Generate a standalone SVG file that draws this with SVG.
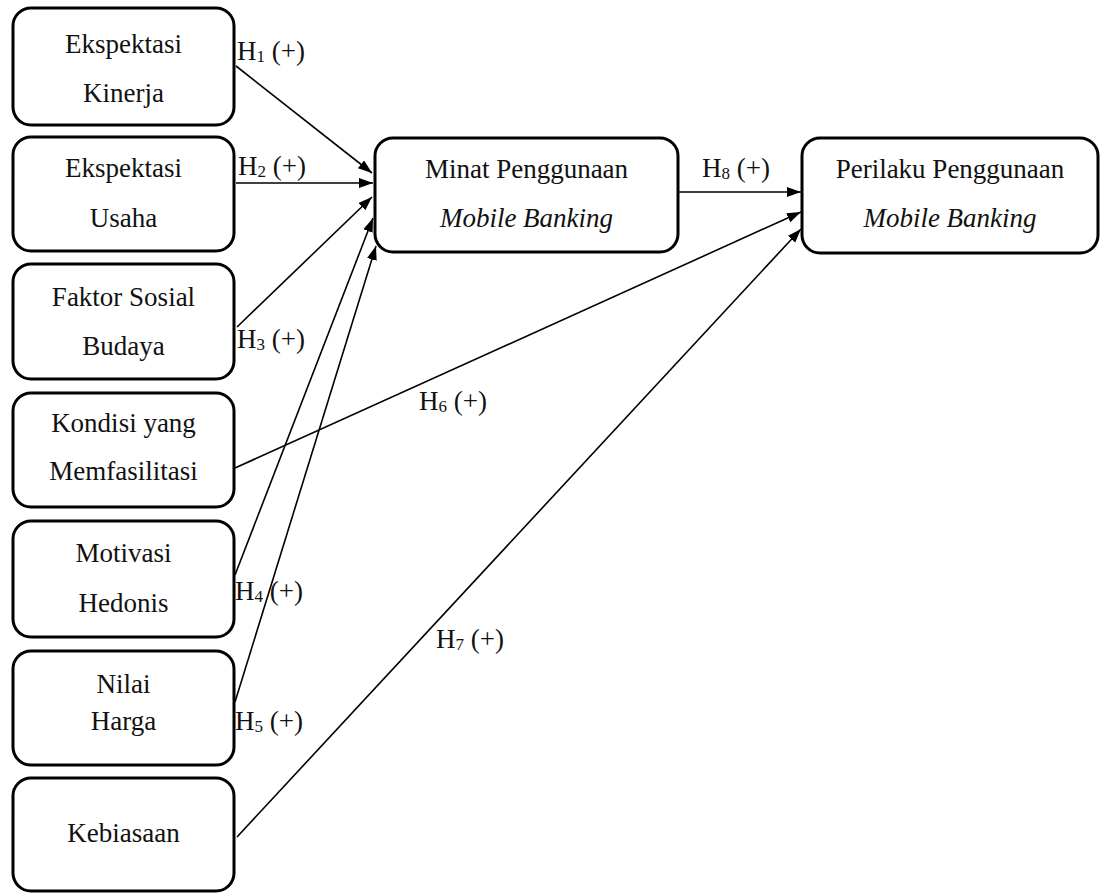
<svg xmlns="http://www.w3.org/2000/svg" width="1104" height="893" viewBox="0 0 1104 893">
  <style>
    .box { fill: #ffffff; stroke: #000000; stroke-width: 3; }
    text { font-family: 'Liberation Serif', 'DejaVu Serif', serif; font-size: 27px; fill: #111111; }
    .t { text-anchor: middle; }
    .it { font-style: italic; }
    .sub { font-size: 17px; }
    .conn { stroke: #000000; stroke-width: 1.6; fill: none; marker-end: url(#arrow); }
  </style>
  <defs>
    <marker id="arrow" markerUnits="userSpaceOnUse" markerWidth="15" markerHeight="12" refX="14" refY="5" orient="auto">
      <path d="M0,0 L14,5 L0,10 z" fill="#000000"/>
    </marker>
  </defs>
  <rect width="1104" height="893" fill="#ffffff"/>

  <g id="connectors">
    <line class="conn" x1="236" y1="66" x2="372" y2="173"/>
    <line class="conn" x1="236" y1="183" x2="373" y2="183"/>
    <line class="conn" x1="237" y1="327" x2="372" y2="197"/>
    <line class="conn" x1="235" y1="575" x2="373" y2="218"/>
    <line class="conn" x1="235" y1="702" x2="376" y2="246"/>
    <line class="conn" x1="235" y1="468" x2="801" y2="212"/>
    <line class="conn" x1="237" y1="837" x2="801" y2="229"/>
    <line class="conn" x1="679" y1="192" x2="801" y2="192"/>
  </g>

  <g id="labels">
    <text font-family="Liberation Serif, serif" x="237" y="60">H<tspan class="sub" dy="2">1</tspan><tspan dy="-2"> (+)</tspan></text>
    <text font-family="Liberation Serif, serif" x="238" y="175">H<tspan class="sub" dy="2">2</tspan><tspan dy="-2"> (+)</tspan></text>
    <text x="237" y="348">H<tspan class="sub" dy="2">3</tspan><tspan dy="-2"> (+)</tspan></text>
    <text x="235" y="600">H<tspan class="sub" dy="2">4</tspan><tspan dy="-2"> (+)</tspan></text>
    <text x="235" y="730">H<tspan class="sub" dy="2">5</tspan><tspan dy="-2"> (+)</tspan></text>
    <text x="419" y="410">H<tspan class="sub" dy="2">6</tspan><tspan dy="-2"> (+)</tspan></text>
    <text x="436" y="648">H<tspan class="sub" dy="2">7</tspan><tspan dy="-2"> (+)</tspan></text>
    <text x="702" y="177">H<tspan class="sub" dy="2">8</tspan><tspan dy="-2"> (+)</tspan></text>
  </g>

  <g id="ekspektasi-kinerja">
    <rect class="box" x="13" y="8" width="221" height="117" rx="18"/>
    <text class="t" x="123.5" y="53">Ekspektasi</text>
    <text class="t" x="123.5" y="102">Kinerja</text>
  </g>
  <g id="ekspektasi-usaha">
    <rect class="box" x="13" y="137" width="221" height="114" rx="18"/>
    <text class="t" x="123.5" y="177">Ekspektasi</text>
    <text class="t" x="123.5" y="227">Usaha</text>
  </g>
  <g id="faktor-sosial-budaya">
    <rect class="box" x="13" y="264" width="221" height="115" rx="18"/>
    <text class="t" x="123.5" y="306">Faktor Sosial</text>
    <text class="t" x="123.5" y="355">Budaya</text>
  </g>
  <g id="kondisi-memfasilitasi">
    <rect class="box" x="13" y="393" width="221" height="114" rx="18"/>
    <text class="t" x="123.5" y="432">Kondisi yang</text>
    <text class="t" x="123.5" y="480">Memfasilitasi</text>
  </g>
  <g id="motivasi-hedonis">
    <rect class="box" x="13" y="521" width="221" height="116" rx="18"/>
    <text class="t" x="123.5" y="562">Motivasi</text>
    <text class="t" x="123.5" y="612">Hedonis</text>
  </g>
  <g id="nilai-harga">
    <rect class="box" x="13" y="651" width="221" height="114" rx="18"/>
    <text class="t" x="123.5" y="693">Nilai</text>
    <text class="t" x="123.5" y="730">Harga</text>
  </g>
  <g id="kebiasaan">
    <rect class="box" x="13" y="778" width="221" height="113" rx="18"/>
    <text class="t" x="123.5" y="842">Kebiasaan</text>
  </g>
  <g id="minat-penggunaan">
    <rect class="box" x="375" y="138" width="303" height="114" rx="18"/>
    <text class="t" x="526.5" y="178">Minat Penggunaan</text>
    <text class="t it" x="526.5" y="227">Mobile Banking</text>
  </g>
  <g id="perilaku-penggunaan">
    <rect class="box" x="802" y="138" width="296" height="115" rx="18"/>
    <text class="t" x="950" y="178">Perilaku Penggunaan</text>
    <text class="t it" x="950" y="227">Mobile Banking</text>
  </g>
</svg>
